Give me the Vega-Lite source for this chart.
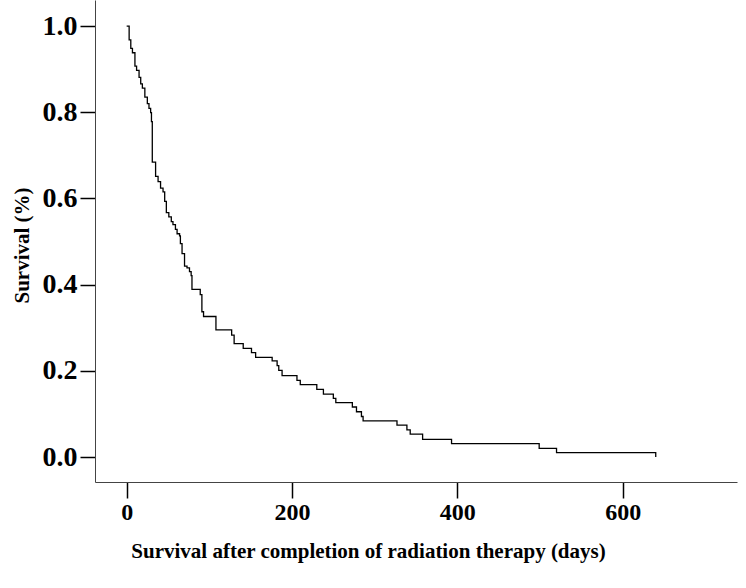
{
  "$schema": "https://vega.github.io/schema/vega-lite/v6.json",
  "autosize": "none",
  "width": 642,
  "height": 482,
  "padding": {"left": 95, "top": 0, "right": 9, "bottom": 106},
  "background": "white",
  "config": {"view": {"stroke": null}},
  "data": {"values": [
    {"day": 0, "surv": 1.0},
    {"day": 3, "surv": 0.968},
    {"day": 5, "surv": 0.948},
    {"day": 7, "surv": 0.938},
    {"day": 10, "surv": 0.907},
    {"day": 12, "surv": 0.897},
    {"day": 15, "surv": 0.881},
    {"day": 17, "surv": 0.866},
    {"day": 19, "surv": 0.856},
    {"day": 22, "surv": 0.835},
    {"day": 25, "surv": 0.82},
    {"day": 27, "surv": 0.809},
    {"day": 29, "surv": 0.799},
    {"day": 30, "surv": 0.778},
    {"day": 31, "surv": 0.684},
    {"day": 35, "surv": 0.651},
    {"day": 38, "surv": 0.639},
    {"day": 41, "surv": 0.624},
    {"day": 44, "surv": 0.615},
    {"day": 46, "surv": 0.593},
    {"day": 48, "surv": 0.567},
    {"day": 51, "surv": 0.557},
    {"day": 54, "surv": 0.546},
    {"day": 56, "surv": 0.539},
    {"day": 59, "surv": 0.528},
    {"day": 61, "surv": 0.518},
    {"day": 64, "surv": 0.513},
    {"day": 65, "surv": 0.495},
    {"day": 67, "surv": 0.472},
    {"day": 70, "surv": 0.443},
    {"day": 73, "surv": 0.439},
    {"day": 76, "surv": 0.43},
    {"day": 78, "surv": 0.421},
    {"day": 79, "surv": 0.389},
    {"day": 89, "surv": 0.377},
    {"day": 91, "surv": 0.337},
    {"day": 93, "surv": 0.326},
    {"day": 108, "surv": 0.295},
    {"day": 127, "surv": 0.283},
    {"day": 130, "surv": 0.263},
    {"day": 141, "surv": 0.252},
    {"day": 151, "surv": 0.242},
    {"day": 156, "surv": 0.231},
    {"day": 176, "surv": 0.223},
    {"day": 182, "surv": 0.212},
    {"day": 184, "surv": 0.201},
    {"day": 188, "surv": 0.189},
    {"day": 206, "surv": 0.178},
    {"day": 210, "surv": 0.168},
    {"day": 230, "surv": 0.157},
    {"day": 238, "surv": 0.146},
    {"day": 250, "surv": 0.136},
    {"day": 253, "surv": 0.126},
    {"day": 273, "surv": 0.116},
    {"day": 278, "surv": 0.105},
    {"day": 284, "surv": 0.094},
    {"day": 286, "surv": 0.084},
    {"day": 327, "surv": 0.074},
    {"day": 339, "surv": 0.063},
    {"day": 343, "surv": 0.053},
    {"day": 358, "surv": 0.041},
    {"day": 393, "surv": 0.031},
    {"day": 499, "surv": 0.02},
    {"day": 520, "surv": 0.01},
    {"day": 640, "surv": 0.0}
  ]},
  "mark": {"type": "line", "interpolate": "step-after", "color": "#000000", "strokeWidth": 1.3},
  "encoding": {
    "x": {
      "field": "day", "type": "quantitative",
      "scale": {"domain": [-38.3, 738.3], "nice": false, "zero": false},
      "axis": {
        "values": [0, 200, 400, 600],
        "grid": false,
        "domainColor": "#444444", "domainWidth": 1,
        "tickColor": "#000000", "tickWidth": 1.5, "tickSize": 16,
        "labelFont": "Liberation Serif", "labelFontWeight": "bold", "labelFontSize": 24,
        "labelColor": "#000000", "labelPadding": 2,
        "title": "Survival after completion of radiation therapy (days)",
        "titleFont": "Liberation Serif", "titleFontWeight": "bold", "titleFontSize": 21,
        "titleColor": "#000000",
        "titleX": 273, "titleY": 69, "titleAlign": "center", "titleBaseline": "middle", "titleAnchor": null
      }
    },
    "y": {
      "field": "surv", "type": "quantitative",
      "scale": {"domain": [-0.058, 1.0604], "nice": false, "zero": false},
      "axis": {
        "values": [0, 0.2, 0.4, 0.6, 0.8, 1.0],
        "format": ".1f",
        "grid": false,
        "domainColor": "#444444", "domainWidth": 1,
        "tickColor": "#000000", "tickWidth": 1.5, "tickSize": 15,
        "labelFont": "Liberation Serif", "labelFontWeight": "bold", "labelFontSize": 28,
        "labelColor": "#000000", "labelPadding": 3,
        "title": "Survival (%)",
        "titleFont": "Liberation Serif", "titleFontWeight": "bold", "titleFontSize": 21,
        "titleColor": "#000000",
        "titleX": -73, "titleY": 245, "titleAngle": -90, "titleAlign": "center", "titleBaseline": "middle", "titleAnchor": null
      }
    }
  }
}
